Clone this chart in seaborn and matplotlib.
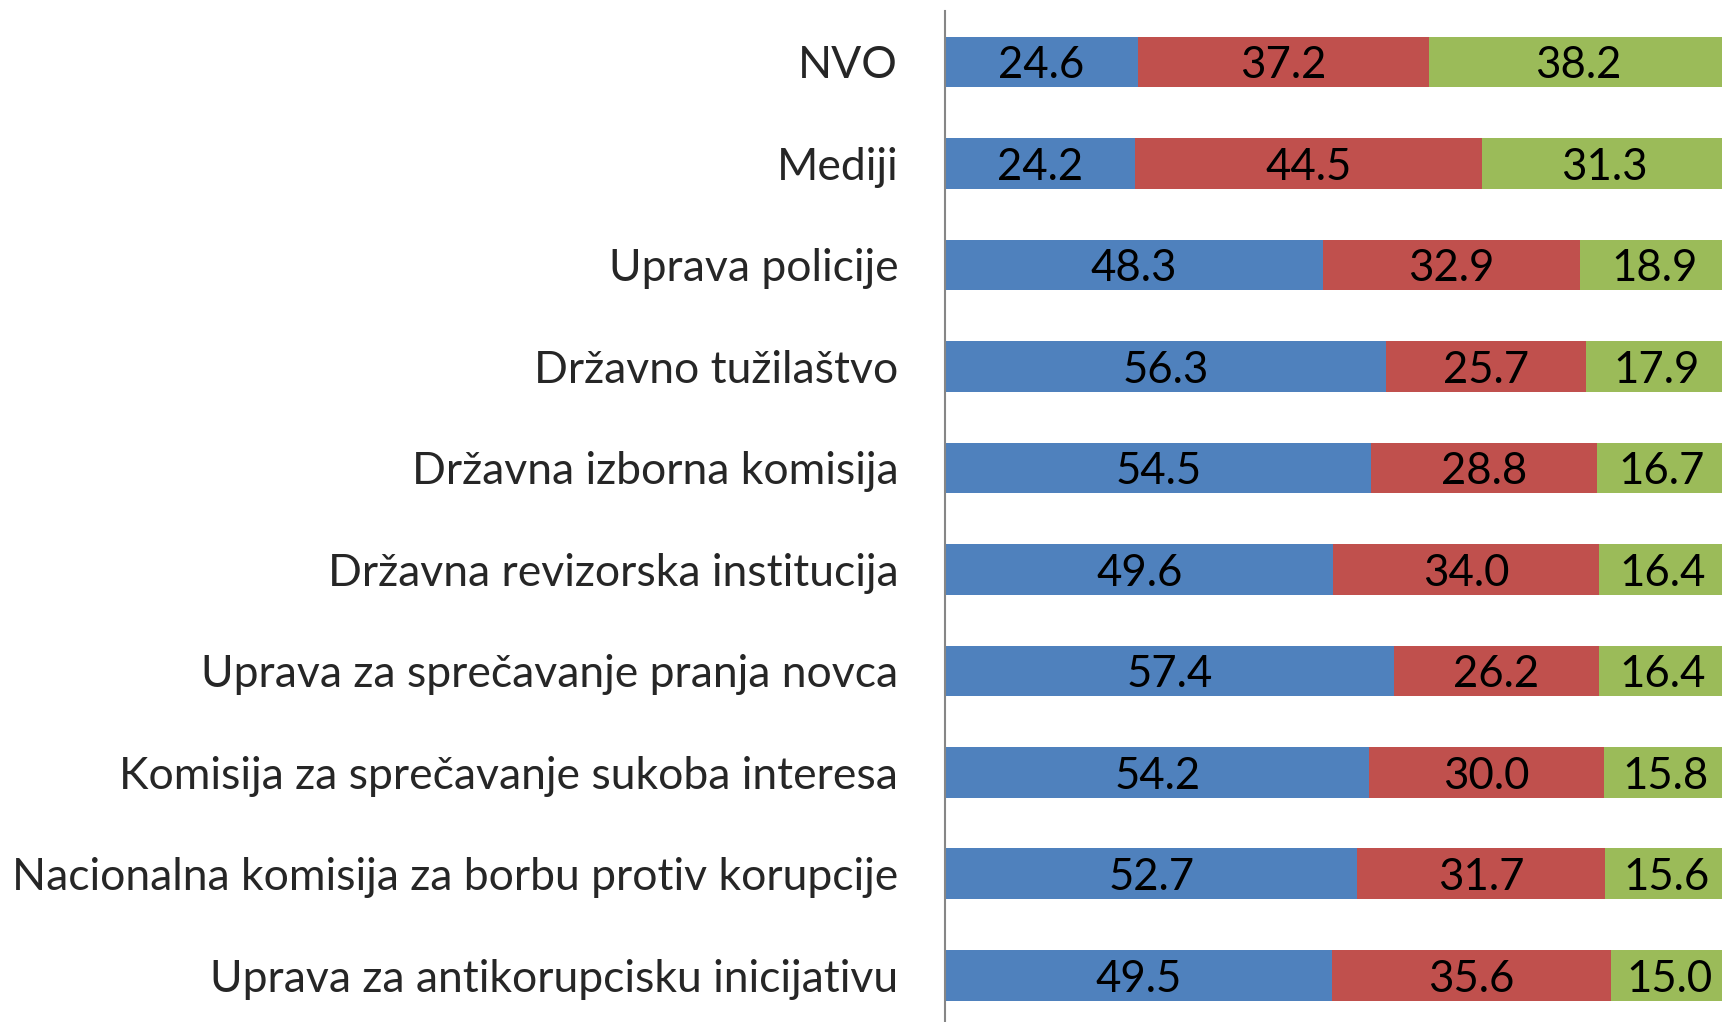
import numpy as np
import pandas as pd
import matplotlib
matplotlib.use("Agg")
import matplotlib.pyplot as plt
import seaborn as sns

# %%
institucije = [
    "NVO",
    "Mediji",
    "Uprava policije",
    "Državno tužilaštvo",
    "Državna izborna komisija",
    "Državna revizorska institucija",
    "Uprava za sprečavanje pranja novca",
    "Komisija za sprečavanje sukoba interesa",
    "Nacionalna komisija za borbu protiv korupcije",
    "Uprava za antikorupcisku inicijativu",
]
plavo = [24.6, 24.2, 48.3, 56.3, 54.5, 49.6, 57.4, 54.2, 52.7, 49.5]
crveno = [37.2, 44.5, 32.9, 25.7, 28.8, 34.0, 26.2, 30.0, 31.7, 35.6]
zeleno = [38.2, 31.3, 18.9, 17.9, 16.7, 16.4, 16.4, 15.8, 15.6, 15.0]

colors = ["#4F81BD", "#C0504D", "#9BBB59"]

# %%
df = pd.DataFrame(
    {"inst": institucije, "plavo": plavo, "crveno": crveno, "zeleno": zeleno}
)
df["c1"] = df["plavo"]
df["c2"] = df["plavo"] + df["crveno"]
df["c3"] = df["c2"] + df["zeleno"]

sns.set_style("white")
plt.rcParams["font.family"] = ["Lato", "DejaVu Sans"]

fig = plt.figure(figsize=(17.22, 10.22), dpi=100)
ax = fig.add_axes([0.549, -0.004, 0.454, 0.993])

# stacked bars: draw cumulative totals back to front
for col, c in zip(["c3", "c2", "c1"], colors[::-1]):
    sns.barplot(
        data=df, x=col, y="inst", orient="h", color=c, width=0.5,
        saturation=1, linewidth=0, ax=ax,
    )

for i, row in df.iterrows():
    left = 0
    for col in ["plavo", "crveno", "zeleno"]:
        v = row[col]
        ax.text(left + v / 2, i + 0.0, f"{v:.1f}", ha="center",
                va="center_baseline", fontsize=31.5, color="black")
        left += v

ax.set_xlim(0, 100)
ax.set_ylim(9.5, -0.5)
ax.set_xlabel("")
ax.set_ylabel("")
ax.set_xticks([])
ax.tick_params(axis="y", length=0, pad=34, labelsize=32)
for s in ["top", "right", "bottom"]:
    ax.spines[s].set_visible(False)
ax.spines["left"].set_color("#868686")
ax.spines["left"].set_linewidth(1.5)

plt.savefig("out.png", dpi=100)
